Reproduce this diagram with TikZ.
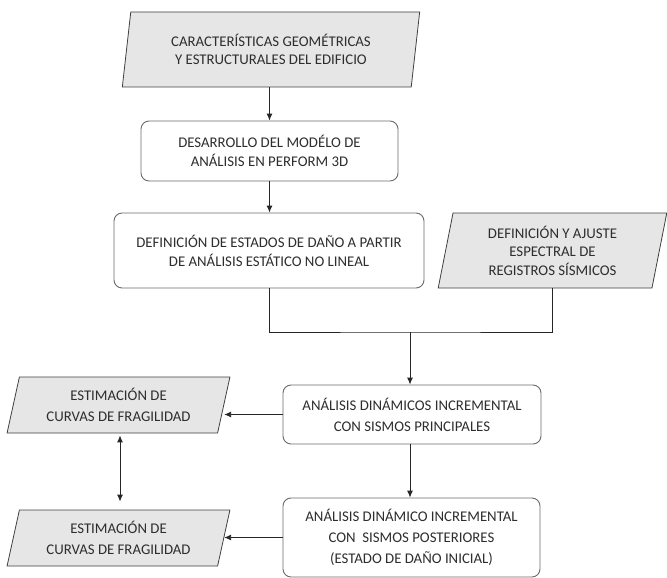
\documentclass[tikz,border=0pt]{standalone}
\usepackage{fontspec}
\setmainfont{Carlito}
\usepackage{xcolor}
\usepackage{tikz}
\usetikzlibrary{shapes.geometric,arrows.meta}
\definecolor{txtgray}{HTML}{2E2E2E}
\definecolor{boxline}{HTML}{6B6B6B}
\definecolor{iofill}{HTML}{E7E6E6}
\tikzset{
	proc/.style={draw=boxline,line width=0.9pt,rounded corners=8pt,fill=white,align=center,text=txtgray,inner sep=0pt,font=\fontsize{14.8}{19}\selectfont},
	data/.style={trapezium,trapezium left angle=79,trapezium right angle=101,trapezium stretches=true,draw=black!75,line width=0.8pt,fill=iofill,align=center,text=txtgray,inner sep=0pt,font=\fontsize{14.8}{18.5}\selectfont},
	wide/.style={font=\fontsize{14.8}{21}\selectfont},
	flow/.style={-{Latex[length=7pt,width=6pt]},line width=0.9pt,black!85}
}
\begin{document}
\begin{tikzpicture}[x=1pt,y=-1pt]
		\useasboundingbox (0,0) rectangle (667,578);
		\node[data,minimum width=298pt,minimum height=75pt] (geo) at (271,49.5) {CARACTERÍSTICAS GEOMÉTRICAS\\Y ESTRUCTURALES DEL EDIFICIO};
		\node[proc,minimum width=257pt,minimum height=60pt] (mod) at (269.5,151) {DESARROLLO DEL MODÉLO DE\\ANÁLISIS EN PERFORM 3D};
		\node[proc,minimum width=310pt,minimum height=75pt] (est) at (269,250.5) {DEFINICIÓN DE ESTADOS DE DAÑO A PARTIR\\DE ANÁLISIS ESTÁTICO NO LINEAL};
		\node[data,minimum width=229pt,minimum height=75pt] (reg) at (552.5,250.5) {DEFINICIÓN Y AJUSTE\\ESPECTRAL DE\\REGISTROS SÍSMICOS};
		\node[proc,wide,minimum width=258pt,minimum height=59pt] (ppal) at (412,414.5) {ANÁLISIS DINÁMICOS INCREMENTAL\\CON SISMOS PRINCIPALES};
		\node[proc,wide,minimum width=257pt,minimum height=79pt] (post) at (411.5,537.5) {ANÁLISIS DINÁMICO INCREMENTAL\\CON \ SISMOS POSTERIORES\\(ESTADO DE DAÑO INICIAL)};
		\node[data,wide,trapezium left angle=75,trapezium right angle=105,minimum width=223pt,minimum height=56pt] (frag1) at (118.5,405) {ESTIMACIÓN DE\\CURVAS DE FRAGILIDAD};
		\node[data,wide,trapezium left angle=75,trapezium right angle=105,minimum width=223pt,minimum height=56pt] (frag2) at (118.5,538) {ESTIMACIÓN DE\\CURVAS DE FRAGILIDAD};
		\coordinate (join) at (410,332);
		\draw[flow] (mod.north |- geo.south) -- (mod.north);
		\draw[flow] (mod.south) -- (mod.south |- est.north);
		\draw[line width=0.9pt,black!85] (est.south) |- (join) -| (reg.south);
		\draw[flow] (join) -- (join |- ppal.north);
		\draw[flow] (ppal.west) -- (ppal.west -| frag1.east);
		\draw[flow] (join |- ppal.south) -- (join |- post.north);
		\draw[flow] (post.west) -- (post.west -| frag2.east);
		\draw[{Latex[length=7pt,width=6pt]}-{Latex[length=7pt,width=6pt]},line width=0.9pt,black!85,shorten <=2pt,shorten >=8pt] ([xshift=1.5pt]frag1.south) -- ([xshift=1.5pt]frag2.north);
	\end{tikzpicture}
\end{document}
